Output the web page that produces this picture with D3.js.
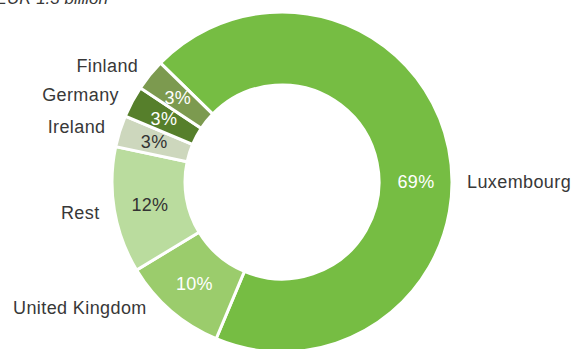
<!DOCTYPE html>
<html><head><meta charset="utf-8">
<script src="https://cdn.jsdelivr.net/npm/d3@7"></script>
<style>
html,body{margin:0;padding:0;background:#fff;}
svg{display:block;}
text{font-family:"Liberation Sans",Arial,sans-serif;}
</style></head>
<body>
<svg id="chart" width="572" height="349"></svg>
<script>
const categories = ["Luxembourg","United Kingdom","Rest","Ireland","Germany","Finland"];
const shares = [69,10,12,3,3,3];
const colors = ["#76bd43","#9bcc6c","#badc9e","#cdd7bd","#567f2b","#7c9a4f"];
const labelColors = ["#ffffff","#ffffff","#333333","#333333","#ffffff","#ffffff"];
const subtitle = "EUR 1.3 billion";

const svg = d3.select("#chart");
const cx = 282, cy = 182, R = 170, r = 97;
const g = svg.append("g").attr("transform",`translate(${cx},${cy})`);

const data = categories.map((c,i)=>({name:c, value:shares[i], color:colors[i], lc:labelColors[i]}));
const start = -45.6*Math.PI/180;
const pie = d3.pie().sort(null).value(d=>d.value).startAngle(start).endAngle(start+2*Math.PI);
const arcs = pie(data);
const arc = d3.arc().innerRadius(r).outerRadius(R);

g.selectAll("path").data(arcs).join("path")
  .attr("d",arc).attr("fill",d=>d.data.color)
  .attr("stroke","#fff").attr("stroke-width",3).attr("stroke-linejoin","miter");

// angle overrides for manually placed labels
const angleOverride = {"Luxembourg":90, "United Kingdom":227};
function labelAngle(d){
  const o = angleOverride[d.data.name];
  return o!==undefined ? o*Math.PI/180 : (d.startAngle+d.endAngle)/2;
}
const pr = 134, lr = 185;
g.selectAll("text.pct").data(arcs).join("text").attr("class","pct")
  .attr("x",d=>{const a = d.data.name==="Luxembourg"?Math.PI/2:(d.startAngle+d.endAngle)/2; return pr*Math.sin(a);})
  .attr("y",d=>{const a = d.data.name==="Luxembourg"?Math.PI/2:(d.startAngle+d.endAngle)/2; return -pr*Math.cos(a);})
  .attr("dy","0.35em").attr("text-anchor","middle")
  .attr("font-size",18).attr("letter-spacing",0.3).attr("fill",d=>d.data.lc)
  .text(d=>d.data.value+"%");

g.selectAll("text.lab").data(arcs).join("text").attr("class","lab")
  .attr("x",d=>lr*Math.sin(labelAngle(d)))
  .attr("y",d=>-lr*Math.cos(labelAngle(d)))
  .attr("dy","0.35em")
  .attr("text-anchor",d=>Math.sin(labelAngle(d))>0?"start":"end")
  .attr("font-size",18).attr("letter-spacing",0.4).attr("fill","#383838")
  .text(d=>d.data.name);

svg.append("text").attr("x",108).attr("y",4).attr("text-anchor","end")
  .attr("font-size",17).attr("font-style","italic").attr("fill","#383838").text(subtitle);
</script>
</body></html>
